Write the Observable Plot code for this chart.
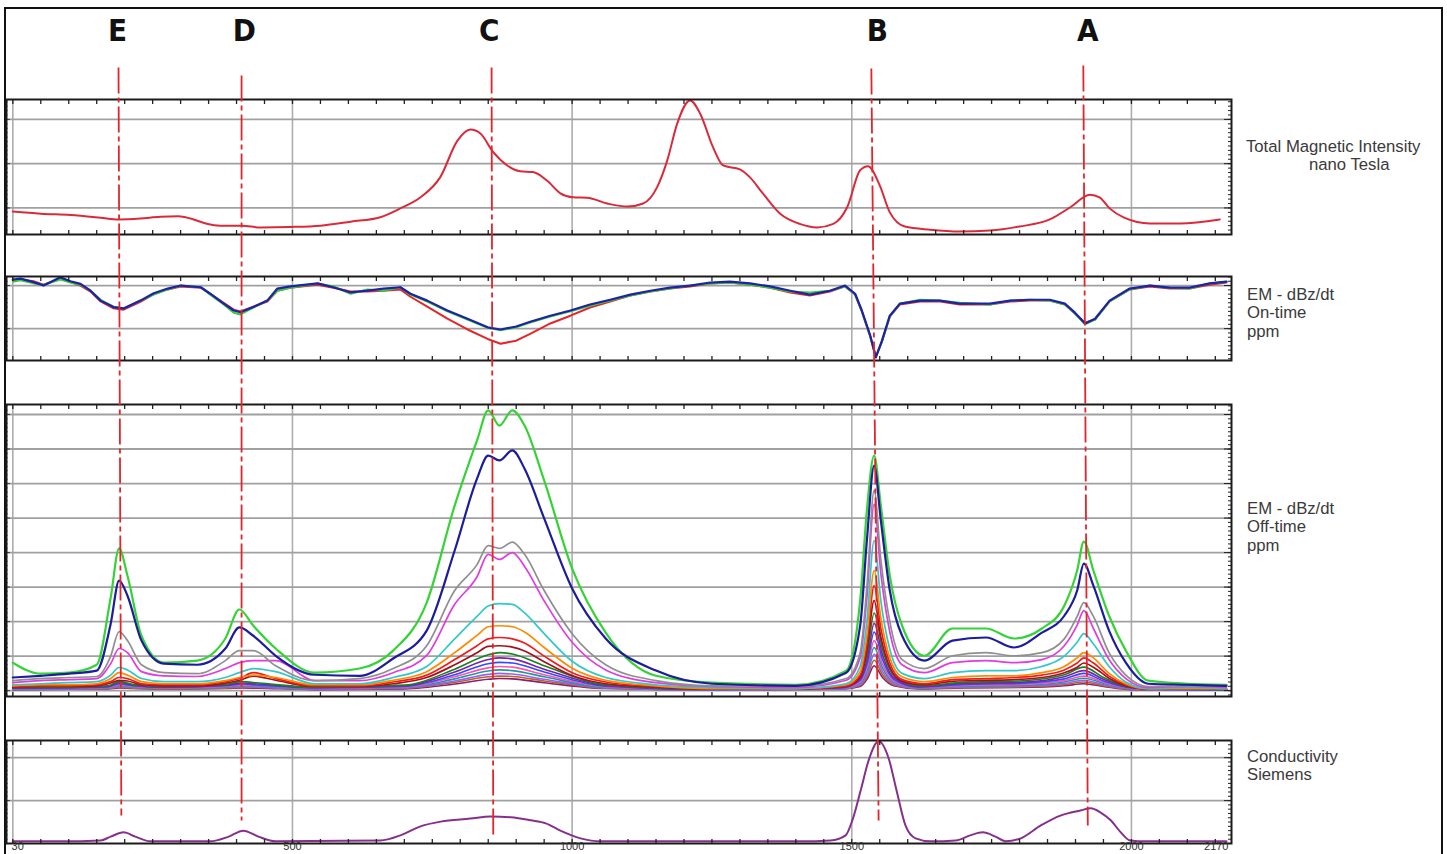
<!DOCTYPE html>
<html><head><meta charset="utf-8">
<script src="https://cdn.jsdelivr.net/npm/d3@7"></script>
<script src="https://cdn.jsdelivr.net/npm/@observablehq/plot@0.6"></script>
<style>
html,body{margin:0;padding:0;background:#fff;overflow:hidden;}
#wrap{position:relative;width:1447px;height:854px;overflow:hidden;background:#fff;}
#border{position:absolute;left:4px;top:7px;width:1439px;height:900px;border:2px solid #111;border-bottom:none;box-sizing:border-box;}
.lbl{position:absolute;font-family:"Liberation Sans",Arial,sans-serif;font-size:16.7px;color:#3a3a3a;line-height:18.4px;white-space:pre;}
svg{position:absolute;left:0;}
</style></head>
<body><div id="wrap"><div id="border"></div></div>
<script>
// ---------------- data ----------------
const xTickLabels = [30, 500, 1000, 1500, 2000, 2170];
const xGridValues = [0, 500, 1000, 1500, 2000];

// Total magnetic intensity (nT)
const tmiFid = [0,50,103,157,189,228,264,296,318,345,371,409,443,496,550,604,657,693,729,764,795,818,836,859,884,907,930,955,979,1002,1027,1063,1099,1127,1152,1170,1188,1211,1229,1252,1270,1300,1318,1341,1372,1407,1438,1467,1492,1515,1529,1550,1568,1595,1640,1693,1747,1800,1854,1890,1926,1943,1961,1987,2033,2087,2158];
const tmiVal = [92,87,84,78,74,76,80,81,76,65,60,60,56,57,60,69,79,99,124,169,252,277,268,226,196,183,181,162,133,124,123,110,103,110,147,207,291,343,313,237,196,187,169,133,87,64,56,64,102,185,194,151,90,58,51,47,49,58,74,101,130,124,99,78,65,65,74];

// EM on-time (ppm)
const onFid = [0,14,37,55,85,103,121,139,157,180,198,228,252,277,300,336,353,377,395,407,430,455,473,496,545,573,604,634,663,693,711,741,777,813,849,872,900,925,961,997,1032,1068,1104,1140,1175,1211,1247,1282,1318,1354,1390,1425,1461,1488,1506,1518,1533,1543,1554,1568,1586,1622,1658,1693,1747,1783,1818,1854,1881,1899,1917,1935,1961,1997,2033,2069,2104,2140,2170];
const onBlue = [14,16,8,0,19,10,4,-12,-35,-50,-53,-35,-18,-7,0,-4,-19,-42,-58,-62,-50,-35,-7,-2,5,-4,-16,-12,-7,-4,-19,-35,-58,-77,-97,-102,-95,-84,-70,-58,-44,-33,-21,-12,-5,0,7,9,5,-2,-12,-21,-12,0,-19,-58,-116,-167,-128,-70,-42,-35,-35,-42,-42,-35,-33,-33,-42,-63,-88,-77,-35,-7,0,-5,-5,5,9];
const onRed = [12,14,10,2,16,8,0,-14,-37,-53,-56,-38,-20,-9,-2,-5,-19,-40,-56,-60,-49,-37,-12,-5,2,-5,-14,-14,-12,-9,-26,-49,-77,-102,-124,-135,-128,-112,-88,-70,-51,-37,-23,-14,-7,-2,5,7,2,-5,-16,-23,-14,-2,-21,-60,-118,-165,-130,-72,-44,-37,-37,-44,-44,-37,-35,-35,-44,-65,-86,-79,-37,-9,-2,-7,-7,2,7];
const onGreen = [9,12,5,2,14,7,2,-12,-33,-49,-53,-35,-21,-9,0,-4,-21,-44,-63,-67,-51,-35,-12,-5,5,-2,-19,-9,-12,-4,-21,-37,-60,-79,-98,-104,-97,-86,-72,-60,-47,-35,-23,-14,-7,0,5,7,2,-5,-14,-16,-12,-2,-21,-60,-118,-165,-130,-72,-42,-33,-35,-40,-44,-35,-33,-35,-44,-65,-90,-79,-37,-9,0,-5,-7,5,9];

// EM off-time (ppm), early channels
const offFid = [0,50,100,150,175,190,205,230,270,330,380,405,430,470,540,620,680,740,790,830,850,870,893,915,950,1000,1060,1150,1250,1400,1490,1515,1527,1540,1552,1568,1590,1630,1680,1740,1790,1840,1880,1903,1915,1932,1960,1990,2030,2100,2170];
const offCh1 = [81,49,52,75,270,412,333,159,81,87,151,235,188,122,52,64,116,255,536,725,812,768,812,768,609,354,168,43,23,17,58,261,522,681,536,333,188,101,180,180,151,180,246,348,432,348,217,116,29,20,17];
const offCh2 = [38,43,49,58,194,319,275,145,78,75,122,183,159,101,46,43,93,174,406,614,681,667,696,643,499,296,151,58,20,14,52,188,435,652,493,290,159,87,145,154,125,168,217,290,368,304,174,81,20,17,14];
const offCh3 = [29,35,38,41,100,171,145,75,52,49,87,116,116,72,29,35,64,130,290,365,420,412,430,395,290,165,75,29,14,12,35,110,300,580,380,200,90,64,101,110,101,110,150,215,255,215,110,45,12,14,12];
const offCh4 = [23,29,32,35,78,122,110,55,43,41,64,81,87,87,29,29,52,102,250,330,395,380,400,360,260,140,60,23,12,9,30,95,270,540,340,170,75,52,81,87,81,90,130,190,232,180,90,35,9,12,9];
const offCh5 = [17,20,23,26,45,67,60,35,26,26,38,52,64,55,20,20,38,70,150,215,245,252,250,225,165,85,38,17,9,6,20,70,200,435,260,120,50,35,52,58,58,70,100,140,165,135,70,25,6,9,6];
const offCh6 = [14,17,17,20,35,52,45,26,20,20,29,38,45,38,17,17,30,55,110,160,185,188,185,170,125,65,30,14,6,6,17,55,160,348,210,95,40,26,38,43,43,52,70,95,110,95,50,20,6,6,6];
const offCh7 = [12,14,14,17,26,38,35,20,17,17,26,35,52,35,14,14,25,45,90,130,150,154,150,138,100,52,25,12,6,5,14,45,135,304,180,80,32,20,32,35,38,45,60,80,95,80,42,17,5,6,5];
const offCh8 = [10,12,12,14,22,30,28,17,14,14,22,30,42,30,12,12,20,38,75,110,128,130,126,115,84,44,20,10,5,4,12,38,115,261,155,68,27,17,27,30,32,38,52,68,80,68,36,14,4,5,4];
// EM off-time (ppm), late channels
const lateFid = [0,100,170,190,215,270,380,410,440,540,700,790,850,870,893,950,1060,1250,1480,1515,1528,1540,1555,1575,1620,1700,1800,1880,1915,1950,2000,2100,2170];
const offCh9  = [9,10,14,26,18,12,18,26,22,10,16,62,104,110,106,72,17,4,10,40,110,225,120,45,14,24,28,46,68,38,10,4,3];
const offCh10 = [8,9,12,23,16,10,16,22,19,9,14,54,90,95,92,62,15,4,9,34,95,195,104,38,12,21,24,40,58,33,9,4,3];
const offCh11 = [7,8,11,20,14,9,14,19,16,8,12,46,78,82,80,54,13,3,8,30,82,170,90,33,10,18,21,34,50,28,8,3,3];
const offCh12 = [6,7,9,17,12,8,12,16,14,7,10,40,66,70,68,46,11,3,7,25,70,145,77,28,9,15,18,29,42,24,7,3,2];
const offCh13 = [5,6,8,15,10,7,10,14,12,6,9,34,57,60,58,40,9,3,6,22,60,125,66,24,8,13,15,25,36,21,6,3,2];
const offCh14 = [5,5,7,12,9,6,9,12,10,5,8,28,47,50,48,33,8,2,5,18,50,105,55,20,7,11,13,21,30,17,5,2,2];
const offCh15 = [4,4,6,10,7,5,7,10,9,4,7,24,40,42,41,28,7,2,5,15,42,88,46,17,6,9,11,17,25,14,4,2,2];
const offCh16 = [3,4,5,8,6,4,6,8,7,3,5,19,33,35,34,23,6,2,4,12,35,72,38,14,5,8,9,14,20,12,3,2,1];

// Conductivity (S)
const condFid = [0,85,157,175,198,219,246,353,386,412,439,470,657,693,729,765,818,854,890,926,953,979,1015,1051,1122,1408,1462,1489,1501,1516,1530,1548,1566,1580,1596,1614,1641,1686,1712,1734,1757,1775,1802,1838,1873,1909,1927,1945,1963,1981,1998,2025,2170];
const condVal = [0.05,0.05,0.07,0.16,0.26,0.16,0.05,0.05,0.16,0.30,0.16,0.05,0.07,0.19,0.40,0.51,0.58,0.63,0.61,0.54,0.47,0.30,0.12,0.05,0.05,0.05,0.07,0.19,0.54,1.24,1.93,2.38,1.98,1.24,0.42,0.12,0.05,0.07,0.19,0.26,0.16,0.05,0.12,0.42,0.65,0.77,0.82,0.72,0.54,0.26,0.07,0.05,0.05];

// Anomaly markers
const markerLabels = ["E","D","C","B","A"];
const markerFidLabel = [187, 414, 852, 1546, 1922];
const markerFidTop = [189, 409, 856, 1535, 1914];
const markerFidBottom = [194, 409, 859, 1548, 1922];

// ---------------- layout ----------------
const wrap = document.getElementById("wrap");
const X_DOMAIN = [30, 2170];
const X_RANGE = [29.1, 1226];
const X_MINOR = d3.range(0, 2151, 50);
const FONT = "Liberation Sans, Arial, sans-serif";
const pts = (xs, ys) => xs.map((x, i) => ({x, y: ys[i]}));
const ln = (xs, ys, stroke, w, curve = "monotone-x") => Plot.line(pts(xs, ys), {x: "x", y: "y", stroke, strokeWidth: w, curve, strokeLinejoin: "round"});

function panel(cfg) {
  const mT = 4, mB = cfg.marginBottom ?? 4;
  const svg = Plot.plot({
    width: 1447, height: mT + cfg.frameH + mB,
    marginLeft: 6, marginRight: 216, marginTop: mT, marginBottom: mB,
    x: {domain: X_DOMAIN, range: X_RANGE, axis: null, label: null},
    y: {domain: cfg.yDomain, axis: null, label: null},
    style: {background: "transparent", overflow: "visible", fontFamily: FONT},
    marks: [
      Plot.gridX(xGridValues, {stroke: "#adadad", strokeOpacity: 1, strokeWidth: 1.6}),
      Plot.gridY(cfg.grid, {stroke: "#a0a0a0", strokeOpacity: 1, strokeWidth: 1.8}),
      ...cfg.marks,
      Plot.axisX(X_MINOR, {anchor: "top", tickSize: 4, dy: 4, fill: "none", stroke: "#222", strokeWidth: 1.3}),
      Plot.axisX(X_MINOR, {anchor: "bottom", tickSize: 4, dy: -4, fill: "none", stroke: "#222", strokeWidth: 1.3}),
      Plot.axisY(cfg.minor, {anchor: "right", tickSize: 4, dx: -4, fill: "none", stroke: "#222"}),
      Plot.axisY(cfg.grid, {anchor: "right", tickSize: 8, dx: -8, fill: "none", stroke: "#222"}),
      Plot.axisY(cfg.minor, {anchor: "left", tickSize: 2, dx: 2, fill: "none", stroke: "#888"}),
      Plot.axisY(cfg.grid, {anchor: "left", tickSize: 4, dx: 4, fill: "none", stroke: "#444"}),
      Plot.frame({stroke: "#1b1b1b", strokeWidth: 2}),
      ...(cfg.after || [])
    ]
  });
  svg.style.top = (cfg.frameTop - mT) + "px";
  wrap.appendChild(svg);
}

// Panel 1: TMI
panel({frameTop: 99, frameH: 135, yDomain: [40, 345], grid: [100, 200, 300],
  minor: d3.range(40, 341, 10),
  marks: [ln(tmiFid, tmiVal, "#d92a3a", 2)]});

// Panel 2: on-time
panel({frameTop: 276, frameH: 84, yDomain: [-174, 21], grid: [-100, 0],
  minor: d3.range(-170, 21, 10),
  marks: [ln(onFid, onRed, "#e3262a", 2, "linear"), ln(onFid, onGreen, "#35cf35", 2, "linear"), ln(onFid, onBlue, "#1d22a6", 2.2, "linear")]});

// Panel 3: off-time
const lateCh = [[offCh16,"#8c1c70"],[offCh15,"#b06a1e"],[offCh14,"#9a5cff"],[offCh13,"#1d9a9a"],[offCh12,"#ff50b0"],[offCh11,"#2c4cff"],[offCh10,"#7d22a8"],[offCh9,"#14821e"]];
const earlyCh = [[offCh8,"#a3121c"],[offCh7,"#f01c1c"],[offCh6,"#ff8a00"],[offCh5,"#30c8c8"],[offCh4,"#e03ce0"],[offCh3,"#8f8f8f"]];
panel({frameTop: 404, frameH: 292, yDomain: [-17, 829], grid: d3.range(0, 801, 100),
  minor: d3.range(-12.5, 826, 12.5),
  marks: [
    ...lateCh.map(([v, c]) => ln(lateFid, v, c, 1.6)),
    ...earlyCh.map(([v, c]) => ln(offFid, v, c, 1.7)),
    ln(offFid, offCh1, "#35d335", 2.2),
    ln(offFid, offCh2, "#1c1c9c", 2.2)
  ]});

// Panel 4: conductivity + bottom labels
const midLabels = xTickLabels.slice(1, -1);
panel({frameTop: 740, frameH: 103, yDomain: [0, 2.4], grid: [1, 2], marginBottom: 14,
  minor: d3.range(0, 2.41, 0.1),
  marks: [ln(condFid, condVal, "#85308a", 2)],
  after: [
    Plot.text(midLabels, {x: d => d, text: d => String(d), frameAnchor: "bottom", dy: 6, fontSize: 11, fill: "#333"}),
    Plot.text([xTickLabels[0]], {x: d => d, text: d => String(d), frameAnchor: "bottom", textAnchor: "start", dx: -18, dy: 6, fontSize: 11, fill: "#333"}),
    Plot.text([xTickLabels[xTickLabels.length - 1]], {x: d => d, text: d => String(d), frameAnchor: "bottom", textAnchor: "end", dx: 2, dy: 6, fontSize: 11, fill: "#333"})
  ]});

// Overlay: anomaly markers and letters
const markers = markerLabels.map((label, i) => ({
  label, fidLabel: markerFidLabel[i], fidTop: markerFidTop[i], fidBottom: markerFidBottom[i],
  yTop: [67, 75, 67, 68, 65][i], yBottom: [815, 820, 835, 820, 825][i]
}));
const overlay = Plot.plot({
  width: 1447, height: 854, marginLeft: 0, marginRight: 0, marginTop: 0, marginBottom: 0,
  x: {domain: X_DOMAIN, range: X_RANGE, axis: null},
  y: {domain: [0, 854], range: [0, 854], axis: null},
  style: {background: "transparent", overflow: "visible"},
  marks: [
    Plot.link(markers, {x1: "fidTop", x2: "fidBottom", y1: "yTop", y2: "yBottom", stroke: "#e3242b", strokeWidth: 1.8, strokeDasharray: "26,4,5,4"}),
    Plot.text(markers, {x: "fidLabel", y: () => 31, text: "label", fontSize: 31, fontWeight: "bold", fill: "#111",
      fontFamily: "Liberation Sans Narrow, DejaVu Sans Condensed, Liberation Sans, sans-serif"})
  ]
});
overlay.style.top = "0px";
overlay.style.pointerEvents = "none";
wrap.appendChild(overlay);

// Right-hand panel titles
const titles = [
  {text: "Total Magnetic Intensity", left: 1246, top: 138},
  {text: "nano Tesla", left: 1309, top: 156},
  {text: "EM - dBz/dt\nOn-time\nppm", left: 1247, top: 286},
  {text: "EM - dBz/dt\nOff-time\nppm", left: 1247, top: 500},
  {text: "Conductivity\nSiemens", left: 1247, top: 748}
];
for (const t of titles) {
  const d = document.createElement("div");
  d.className = "lbl"; d.textContent = t.text;
  d.style.left = t.left + "px"; d.style.top = t.top + "px";
  wrap.appendChild(d);
}
</script></body></html>
